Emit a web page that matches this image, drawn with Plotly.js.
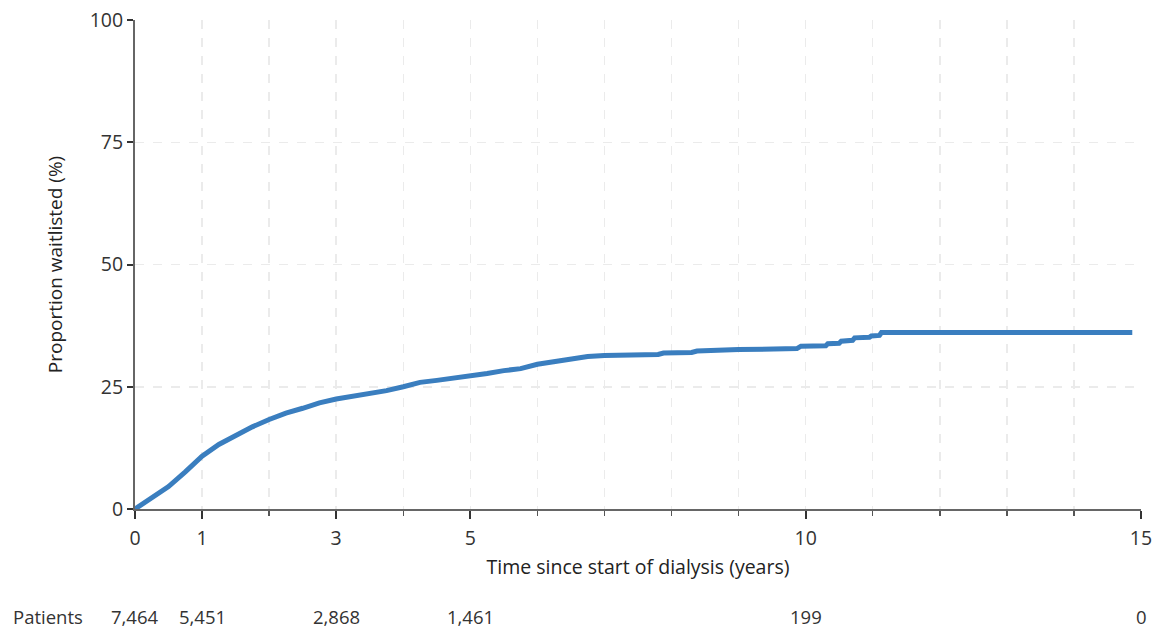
<!DOCTYPE html>
<html>
<head>
<meta charset="utf-8">
<script src="https://cdn.plot.ly/plotly-3.0.1.min.js"></script>
<style>html,body{margin:0;padding:0;background:#fff;}#chart{width:1156px;height:629px;}</style>
</head>
<body>
<div id="chart"></div>
<script>
const timeYears = [0,0.25,0.5,0.75,0.92,1.0,1.25,1.5,1.75,2.0,2.25,2.5,2.75,3.0,3.25,3.5,3.75,4.0,4.25,4.5,4.75,5.0,5.25,5.5,5.75,6.0,6.25,6.5,6.75,7.0,7.5,7.8,7.88,8.3,8.38,8.5,9.0,9.87,9.93,10.3,10.33,10.5,10.53,10.7,10.73,10.95,10.98,11.1,11.13,14.87];
const proportion = [0,2.3,4.6,7.6,10.0,10.8,13.2,15.0,16.8,18.3,19.6,20.6,21.7,22.5,23.0,23.6,24.2,25.0,25.9,26.3,26.7,27.1,27.7,28.3,28.7,29.6,30.2,30.7,31.2,31.4,31.5,31.6,31.9,32.0,32.3,32.4,32.6,32.8,33.3,33.4,33.8,33.9,34.3,34.5,35.0,35.1,35.4,35.5,36.1,36.1];
const xTickVals = [0,1,3,5,10,15];
const yTickVals = [0,25,50,75,100];
const riskTimes = [0,1,3,5,10,15];
const riskCounts = ["7,464","5,451","2,868","1,461","199","0"];

const font = "Open Sans, Noto Sans, sans-serif";
const annotations = riskTimes.map((t,i)=>({
  x:t, xref:'x', y:-0.219, yref:'paper', text:riskCounts[i], showarrow:false,
  xanchor:'center', yanchor:'middle', borderpad:0, font:{family:font,size:18.5,color:'#333'}
}));
annotations.push({x:-0.122, xref:'paper', y:-0.219, yref:'paper', text:'Patients', showarrow:false,
  xanchor:'left', yanchor:'middle', borderpad:0, font:{family:font,size:18.5,color:'#333'}});

const trace = {x:timeYears, y:proportion, type:'scatter', mode:'lines',
  line:{shape:'linear', color:'#3a7ebf', width:5}, hoverinfo:'skip'};

const layout = {
  width:1156, height:629,
  margin:{l:135, r:15, t:20, b:120},
  paper_bgcolor:'#fff', plot_bgcolor:'#fff',
  showlegend:false,
  font:{family:font, color:'#333'},
  xaxis:{range:[0,15], tickmode:'array', tickvals:xTickVals, ticks:'outside', ticklen:8, tickwidth:2, tickcolor:'#333',
    ticklabelstandoff:3,
    showline:true, linecolor:'#666', linewidth:2, zeroline:false,
    showgrid:true, gridcolor:'#ebebeb', griddash:'dash', gridwidth:1.5,
    minor:{dtick:1, tick0:0, ticks:'outside', ticklen:5, tickwidth:1.5, tickcolor:'#555', showgrid:true, gridcolor:'#ebebeb', griddash:'dash', gridwidth:1.5},
    tickfont:{family:font,size:19.5,color:'#333'},
    title:{text:'Time since start of dialysis (years)', font:{family:font,size:19.5,color:'#222'}, standoff:10}},
  yaxis:{range:[0,100], tickmode:'array', tickvals:yTickVals, ticks:'outside', ticklen:6, tickwidth:2, tickcolor:'#333',
    showline:true, linecolor:'#666', linewidth:2, zeroline:false,
    showgrid:true, gridcolor:'#ebebeb', griddash:'dash', gridwidth:1.5,
    tickfont:{family:font,size:19.5,color:'#333'},
    title:{text:'Proportion waitlisted (%)', font:{family:font,size:19,color:'#222'}, standoff:22}},
  annotations:annotations
};
Plotly.newPlot('chart',[trace],layout,{displayModeBar:false,staticPlot:true});
</script>
</body>
</html>
